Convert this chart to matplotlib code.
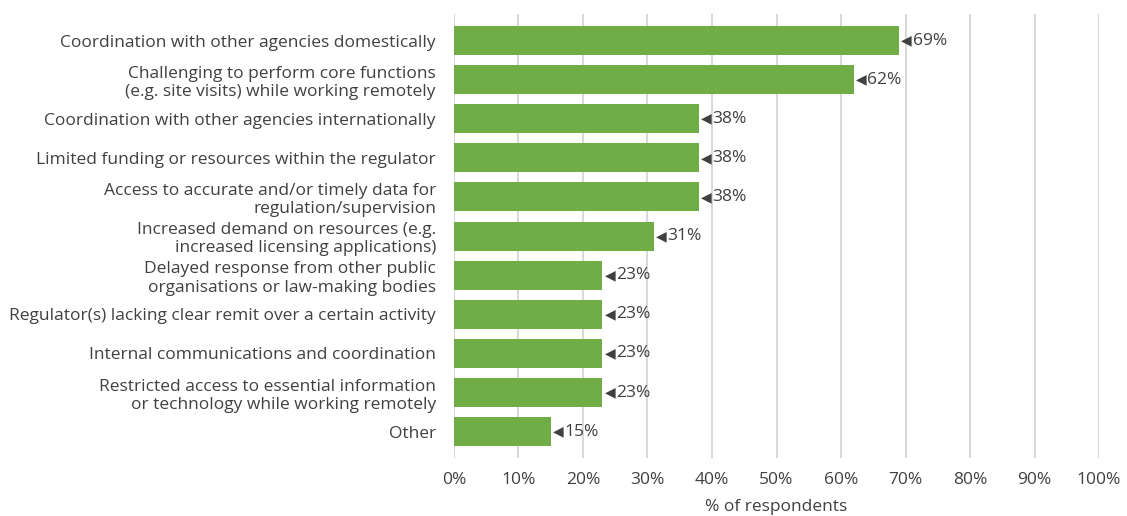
import numpy as np
import matplotlib.pyplot as plt

plt.rcParams['font.family'] = ['Open Sans', 'DejaVu Sans']

# Challenges reported by regulators (% of respondents)
categories = [
    'Coordination with other agencies domestically',
    'Challenging to perform core functions\n(e.g. site visits) while working remotely',
    'Coordination with other agencies internationally',
    'Limited funding or resources within the regulator',
    'Access to accurate and/or timely data for\nregulation/supervision',
    'Increased demand on resources (e.g.\nincreased licensing applications)',
    'Delayed response from other public\norganisations or law-making bodies',
    'Regulator(s) lacking clear remit over a certain activity',
    'Internal communications and coordination',
    'Restricted access to essential information\nor technology while working remotely',
    'Other',
]
values = [69, 62, 38, 38, 38, 31, 23, 23, 23, 23, 15]
xticks = [0, 10, 20, 30, 40, 50, 60, 70, 80, 90, 100]

green = '#70AD47'
text_col = '#404040'

fig = plt.figure(figsize=(11.27, 5.16), dpi=100)
ax = fig.add_axes([0.4028, 0.112, 0.5724, 0.861])

y = np.arange(len(categories))
ax.barh(y, values, height=0.74, color=green, zorder=2)

# pointer + value next to each bar
for yi, v in zip(y, values):
    ax.text(v + 0.35, yi, '◀', fontsize=10, color=text_col, va='center', ha='left',
            family=['DejaVu Sans'])
    ax.text(v + 2.1, yi, f'{v}%', fontsize=12.5, color=text_col, va='center', ha='left')

ax.set_xlim(0, 100)
ax.set_ylim(len(categories) - 0.32, -0.68)
ax.set_xticks(xticks)
ax.set_xticklabels([f'{t}%' for t in xticks], fontsize=12.5, color=text_col)
ax.set_yticks(y)
ax.set_yticklabels(categories, fontsize=12.5, color=text_col, linespacing=1.2)
ax.tick_params(axis='x', length=0, pad=10)
ax.tick_params(axis='y', length=0, pad=13)

ax.xaxis.grid(True, color='#d9d9d9', linewidth=1.5, zorder=0)
ax.set_axisbelow(True)
for s in ax.spines.values():
    s.set_visible(False)

ax.set_xlabel('% of respondents', fontsize=12.5, color=text_col, labelpad=8)

fig.savefig('out.png', dpi=100)
